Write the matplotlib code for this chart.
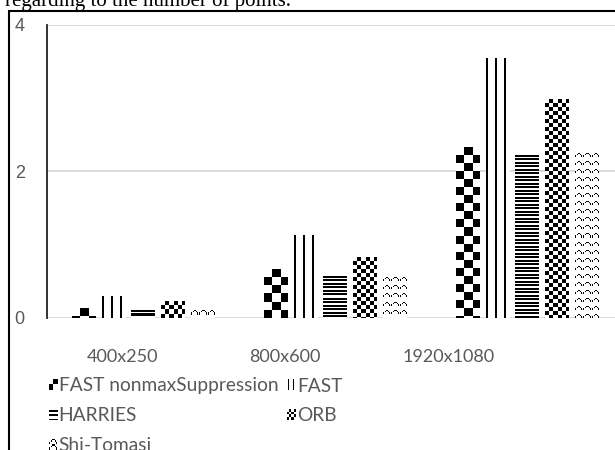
import numpy as np
import matplotlib
matplotlib.use('Agg')
import matplotlib.pyplot as plt
from matplotlib.patches import Rectangle
from matplotlib.colors import Normalize
from matplotlib.image import BboxImage
from matplotlib.transforms import Bbox, TransformedBbox
from matplotlib.legend_handler import HandlerBase

plt.rcParams.update({'font.family': 'Lato'})

# data
categories = ['400x250', '800x600', '1920x1080']
series = ['FAST nonmaxSuppression', 'FAST', 'HARRIES', 'ORB', 'Shi-Tomasi']
fast_nonmax = [0.13, 0.66, 2.32]
fast = [0.29, 1.13, 3.54]
harries = [0.10, 0.56, 2.22]
orb = [0.22, 0.83, 2.98]
shi_tomasi = [0.10, 0.55, 2.24]
values = [fast_nonmax, fast, harries, orb, shi_tomasi]
y_ticks = [0, 2, 4]

W, H, DPI = 615, 450, 100
GRAY_TXT = '#595959'


# ── fill patterns (1 = black) ─────────────────────
def pattern(kind, h, w, small=False):
    yy, xx = np.mgrid[0:h, 0:w]
    if kind == 'bigcheck':
        sq = 4 if small else 8
        return ((yy // sq + xx // sq) % 2).astype(float)
    if kind == 'vlines':
        if small:
            return np.isin(xx % 8, [1, 5]).astype(float)
        return ((xx % 8.5) < 2).astype(float)
    if kind == 'hlines':
        if small:
            return np.isin(yy % 8, [1, 4, 7]).astype(float)
        return np.isin(yy % 7, [0, 1, 3, 4]).astype(float)
    if kind == 'smallcheck':
        sq = 2 if small else 4
        return ((yy // sq + xx // sq) % 2).astype(float)
    if kind == 'wave':
        prof = {0: [2, 3], 2: [1], 3: [0], 4: [0], 5: [1], 6: [2, 3]}
        per = 4 if small else 8
        out = np.zeros((h, w))
        for r in range(h):
            for c in range(w):
                cc = c % 8
                if cc in prof and (r % per) in prof[cc]:
                    out[r, c] = 1
        return out
    return np.zeros((h, w))


kinds = ['bigcheck', 'vlines', 'hlines', 'smallcheck', 'wave']

fig = plt.figure(figsize=(W / DPI, H / DPI), dpi=DPI)
# plot area runs slightly past the right edge, as in the cropped reference
ax_l, ax_r, ax_t, ax_b = 47, 623, 24.6, 318
ax = fig.add_axes([ax_l / W, 1 - ax_b / H, (ax_r - ax_l) / W, (ax_b - ax_t) / H])
ax.set_xlim(-0.5, len(categories) - 0.5)
ax.set_ylim(0, 4)

px_per_x = (ax_r - ax_l) / len(categories)
px_per_y = (ax_b - ax_t) / 4

bar_w = 0.12
step = 0.154
x = np.arange(len(categories))
norm = Normalize(0, 1)

containers = []
for i, (name, vals, kind) in enumerate(zip(series, values, kinds)):
    xpos = x + (i - 2) * step
    bars = ax.bar(xpos, vals, width=bar_w, color='none', edgecolor='none',
                  label=name, zorder=3)
    containers.append(bars)
    for xp, v in zip(xpos, vals):
        wpx = max(1, int(round(bar_w * px_per_x)))
        hpx = max(1, int(round(v * px_per_y)))
        ax.imshow(pattern(kind, hpx, wpx), cmap='gray_r', norm=norm,
                  extent=(xp - bar_w / 2, xp + bar_w / 2, 0, v),
                  aspect='auto', interpolation='nearest', origin='upper', zorder=3)

ax.set_xlim(-0.5, len(categories) - 0.5)
ax.set_ylim(0, 4)

# gridlines
for yv in y_ticks:
    ax.axhline(yv, color='#d9d9d9', lw=1.3, zorder=1)

for s in ['top', 'right', 'bottom']:
    ax.spines[s].set_visible(False)
ax.spines['left'].set_linewidth(1.3)
ax.spines['left'].set_color('#222222')

ax.set_yticks(y_ticks)
ax.set_yticklabels([str(t) for t in y_ticks], fontsize=13, color=GRAY_TXT,
                   family='Liberation Sans')
ax.tick_params(axis='y', length=0, pad=16)

# category labels sit left of their bar groups in the reference
label_pos = [-0.109 + 0.849 * i for i in range(len(categories))]
ax.set_xticks(label_pos)
ax.set_xticklabels(categories, fontsize=13, color=GRAY_TXT)
ax.tick_params(axis='x', length=0, pad=22)


class HandlerPattern(HandlerBase):
    def __init__(self, kind):
        super().__init__()
        self.kind = kind

    def create_artists(self, legend, orig_handle, xdescent, ydescent,
                       width, height, fontsize, trans):
        bb = Bbox.from_bounds(-xdescent, -ydescent, width, height)
        img = BboxImage(TransformedBbox(bb, trans), cmap='gray_r', norm=norm,
                        interpolation='nearest')
        img.set_data(pattern(self.kind, 8, 8, small=True))
        return [img]


order = [0, 2, 4, 1, 3]
leg = fig.legend([containers[k] for k in order], [series[k] for k in order],
                 handler_map={containers[k]: HandlerPattern(kinds[k]) for k in range(5)},
                 ncol=2, loc='upper left', bbox_to_anchor=(48.5 / W, 1 - 377.5 / H),
                 frameon=False, fontsize=13.8, handlelength=0.45, handleheight=0.45,
                 handletextpad=0.08, columnspacing=0.44, labelspacing=0.67,
                 borderpad=0, borderaxespad=0)
for t in leg.get_texts():
    t.set_color(GRAY_TXT)

# frame of the pasted chart and the cut-off caption line above it
fig.add_artist(Rectangle((8.5 / W, -0.1), 1.2, 1.1 - 11 / H, transform=fig.transFigure,
                         fill=False, edgecolor='black', lw=1.5))
fig.text(5 / W, 1 - 6.3 / H, 'regarding to the number of points.', family='Liberation Serif',
         fontsize=15, va='baseline', ha='left', color='black')

fig.savefig('out.png', dpi=DPI, facecolor='white')
